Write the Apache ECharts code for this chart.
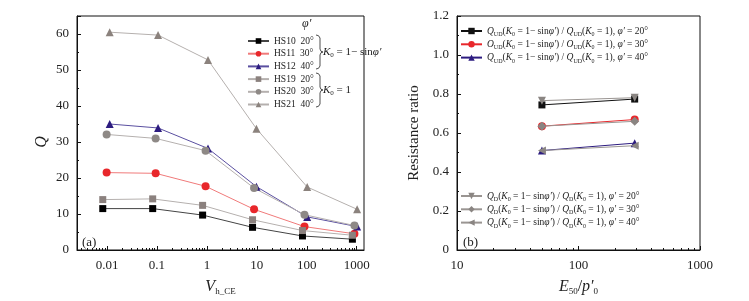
<!DOCTYPE html>
<html lang="en">

<head>
  <meta charset="UTF-8">
  <title>Resistance</title>
  <style>
    html, body { margin: 0; padding: 0; background: #fff; }
    #main { width: 749px; height: 301px; }
  </style>
</head>

<body>
  <div id="main"></div>
  <script src="https://cdn.jsdelivr.net/npm/echarts@6/dist/echarts.min.js"></script>
  <script>
    const myChart = echarts.init(document.getElementById('main'));
    const serif = 'Liberation Serif';

    // (a) Q vs V_h_CE, points are shifted a little along x per marker type
    const xSquare = [0.0082, 0.082, 0.82, 8.2, 82, 820];
    const xCircle = [0.0098, 0.094, 0.94, 8.8, 90, 900];
    const xTri = [0.0113, 0.105, 1.05, 9.8, 102, 1020];
    const hs10 = [11.5, 11.5, 9.7, 6.3, 3.9, 3.0];
    const hs11 = [21.5, 21.3, 17.7, 11.3, 6.5, 4.5];
    const hs12 = [35.0, 33.9, 28.2, 17.6, 9.2, 6.5];
    const hs19 = [14.0, 14.2, 12.4, 8.4, 5.4, 4.1];
    const hs20 = [32.1, 31.0, 27.6, 17.2, 9.8, 6.8];
    const hs21 = [60.5, 59.7, 52.8, 33.7, 17.5, 11.3];
    const phiA = { HS10: 20, HS11: 30, HS12: 40, HS19: 20, HS20: 30, HS21: 40 };
    const xTicksA = [0.01, 0.1, 1, 10, 100, 1000];

    // (b) resistance ratio vs E50/p'0
    const e50 = [50, 290];
    const ud20 = [0.744, 0.774];
    const ud30 = [0.635, 0.669];
    const ud40 = [0.510, 0.548];
    const d20 = [0.766, 0.781];
    const d30 = [0.635, 0.660];
    const d40 = [0.510, 0.535];
    const xTicksB = [10, 100, 1000];

    const zip = (xs, ys) => xs.map((x, i) => [x, ys[i]]);
    // log minor tick positions 2..9 x 10^k
    const minors = (lo, hi) => {
      const out = [];
      for (let k = lo; k < hi; k++) for (let m = 2; m <= 9; m++) out.push(+(m * Math.pow(10, k)).toPrecision(6));
      return out;
    };
    const fmt = v => String(+(+v).toPrecision(6));

    const rich = {
      i: { fontFamily: serif, fontStyle: 'italic', fontSize: 9.5, color: '#222', lineHeight: 13 },
      n: { fontFamily: serif, fontSize: 9.5, color: '#222', lineHeight: 13 },
      s: { fontFamily: serif, fontSize: 6, color: '#222', lineHeight: 13, verticalAlign: 'bottom' }
    };
    const ratioLabel = (q, sub, phi) =>
      `{i|${q}}{s|${sub}}{n|(}{i|K}{s|0}{n| = 1− sin}{i|φ′}{n|) / }{i|${q}}{s|${sub}}{n|(}{i|K}{s|0}{n| = 1), }{i|φ′}{n| = ${phi}°}`;
    const legendB = {
      UD20: ratioLabel('Q', 'UD', 20),
      UD30: ratioLabel('O', 'UD', 30),
      UD40: ratioLabel('Q', 'UD', 40),
      D20: ratioLabel('Q', 'D', 20),
      D30: ratioLabel('Q', 'D', 30),
      D40: ratioLabel('Q', 'D', 40)
    };

    const axisLbl = { fontFamily: serif, fontSize: 13, color: '#222' };
    const black = '#111';

    // curly brace as a polyline, x0 = left tip, y0 = top
    const brace = (x0, y0) => [[0, 0], [2.5, 0.7], [4, 3], [4, 14], [5, 16.3], [7, 17], [5, 17.7], [4, 20], [4, 31], [2.5, 33.3], [0, 34]]
      .map(p => [x0 + p[0], y0 + p[1]]);
    const kRich = {
      i: { fontFamily: serif, fontStyle: 'italic', fontSize: 11, fill: '#222', lineHeight: 14 },
      n: { fontFamily: serif, fontSize: 11, fill: '#222', lineHeight: 14 },
      s: { fontFamily: serif, fontSize: 7, fill: '#222', lineHeight: 14, verticalAlign: 'bottom' }
    };

    function line(name, data, color, lineColor, symbol, size, xi, yi, rot) {
      return {
        name, type: 'line', data, xAxisIndex: xi, yAxisIndex: yi,
        symbol, symbolSize: size, symbolRotate: rot || 0,
        itemStyle: { color },
        lineStyle: { color: lineColor, width: 1 },
        emphasis: { disabled: true }
      };
    }

    const option = {
      animation: false,
      grid: [
        { left: 77, top: 16, width: 287, height: 239, show: true, borderColor: black, borderWidth: 1 },
        { left: 457, top: 16, width: 243, height: 239, show: true, borderColor: black, borderWidth: 1 }
      ],
      xAxis: [
        {
          type: 'log', gridIndex: 0, min: 0.0025, max: 1400,
          name: '{i|V}{s|h_CE}', nameLocation: 'middle', nameGap: 28,
          nameTextStyle: {
            rich: {
              i: { fontFamily: serif, fontStyle: 'italic', fontSize: 16, color: '#222', lineHeight: 18 },
              s: { fontFamily: serif, fontSize: 9, color: '#222', lineHeight: 18, verticalAlign: 'bottom' }
            }
          },
          axisLine: { lineStyle: { color: black } },
          axisTick: { inside: true, length: 4, customValues: xTicksA, lineStyle: { color: black } },
          axisLabel: Object.assign({ customValues: xTicksA, formatter: fmt, margin: 9 }, axisLbl),
          splitLine: { show: false }
        },
        {
          type: 'log', gridIndex: 0, min: 0.0025, max: 1400, position: 'bottom',
          axisLine: { show: false },
          axisTick: { inside: true, length: 2, customValues: minors(-3, 4).filter(v => v > 0.0025 && v < 1400), lineStyle: { color: black } },
          axisLabel: { show: false }, splitLine: { show: false }
        },
        {
          type: 'log', gridIndex: 1, min: 10, max: 1000,
          name: '{i|E}{s|50}{n|/}{i|p′}{s|0}', nameLocation: 'middle', nameGap: 28,
          nameTextStyle: {
            rich: {
              i: { fontFamily: serif, fontStyle: 'italic', fontSize: 16, color: '#222', lineHeight: 18 },
              n: { fontFamily: serif, fontSize: 16, color: '#222', lineHeight: 18 },
              s: { fontFamily: serif, fontSize: 9, color: '#222', lineHeight: 18, verticalAlign: 'bottom' }
            }
          },
          axisLine: { lineStyle: { color: black } },
          axisTick: { inside: true, length: 4, customValues: xTicksB, lineStyle: { color: black } },
          axisLabel: Object.assign({ customValues: xTicksB, formatter: fmt, margin: 9 }, axisLbl),
          splitLine: { show: false }
        },
        {
          type: 'log', gridIndex: 1, min: 10, max: 1000, position: 'bottom',
          axisLine: { show: false },
          axisTick: { inside: true, length: 2, customValues: minors(1, 3), lineStyle: { color: black } },
          axisLabel: { show: false }, splitLine: { show: false }
        }
      ],
      yAxis: [
        {
          type: 'value', gridIndex: 0, min: 0, max: 65, interval: 10,
          name: 'Q', nameLocation: 'middle', nameGap: 27,
          nameTextStyle: { fontFamily: serif, fontStyle: 'italic', fontSize: 16, color: '#222', padding: [0, 0, 0, -18] },
          axisLine: { show: true, lineStyle: { color: black } },
          axisTick: { inside: true, length: 4, lineStyle: { color: black } },
          minorTick: { show: true, splitNumber: 2, length: 2, lineStyle: { color: black } },
          axisLabel: Object.assign({ showMaxLabel: false, margin: 8 }, axisLbl),
          splitLine: { show: false }
        },
        {
          type: 'value', gridIndex: 1, min: 0, max: 1.2, interval: 0.2,
          name: 'Resistance ratio', nameLocation: 'middle', nameGap: 35,
          nameTextStyle: { fontFamily: serif, fontSize: 15, color: '#222' },
          axisLine: { show: true, lineStyle: { color: black } },
          axisTick: { inside: true, length: 4, lineStyle: { color: black } },
          minorTick: { show: true, splitNumber: 2, length: 2, lineStyle: { color: black } },
          axisLabel: Object.assign({ margin: 8, formatter: v => v === 0 ? '0' : v.toFixed(1) }, axisLbl),
          splitLine: { show: false }
        }
      ],
      legend: [
        {
          data: ['HS10', 'HS11', 'HS12', 'HS19', 'HS20', 'HS21'],
          orient: 'vertical', left: 247, top: 35, padding: 0, itemWidth: 21, itemHeight: 7, itemGap: 0.7,
          formatter: name => `${name}  ${phiA[name]}°`,
          textStyle: { fontFamily: serif, fontSize: 9.5, color: '#222', lineHeight: 12 },
          selectedMode: false
        },
        {
          data: ['UD20', 'UD30', 'UD40'],
          orient: 'vertical', left: 460, top: 26, padding: 0, itemWidth: 21, itemHeight: 8, itemGap: 1.8,
          formatter: name => legendB[name],
          textStyle: { rich }, selectedMode: false
        },
        {
          data: ['D20', 'D30', 'D40'],
          orient: 'vertical', left: 460, top: 191, padding: 0, itemWidth: 21, itemHeight: 8, itemGap: 1.8,
          formatter: name => legendB[name],
          textStyle: { rich }, selectedMode: false
        }
      ],
      graphic: [
        { type: 'text', x: 302, y: 18, style: { text: 'φ′', fontFamily: serif, fontStyle: 'italic', fontSize: 12, fill: '#222' } },
        { type: 'polyline', shape: { points: brace(316, 35) }, style: { fill: null, stroke: '#222', lineWidth: 0.8 } },
        { type: 'polyline', shape: { points: brace(316, 73) }, style: { fill: null, stroke: '#222', lineWidth: 0.8 } },
        { type: 'text', x: 323, y: 45, style: { text: '{i|K}{s|0}{n| = 1− sin}{i|φ′}', rich: kRich } },
        { type: 'text', x: 323, y: 83, style: { text: '{i|K}{s|0}{n| = 1}', rich: kRich } },
        { type: 'text', x: 82, y: 236, style: { text: '(a)', fontFamily: serif, fontSize: 13, fill: '#222' } },
        { type: 'text', x: 463, y: 236, style: { text: '(b)', fontFamily: serif, fontSize: 13, fill: '#222' } }
      ],
      series: [
        line('HS10', zip(xSquare, hs10), '#000', '#444', 'rect', 7, 0, 0),
        line('HS11', zip(xCircle, hs11), '#e8272b', '#f07a7a', 'circle', 8, 0, 0),
        line('HS12', zip(xTri, hs12), '#2d1c80', '#5a4fa0', 'triangle', 8, 0, 0),
        line('HS19', zip(xSquare, hs19), '#8b817e', '#b5b0ae', 'rect', 7, 0, 0),
        line('HS20', zip(xCircle, hs20), '#8e8986', '#b5b0ae', 'circle', 8, 0, 0),
        line('HS21', zip(xTri, hs21), '#8b827d', '#b5b0ae', 'triangle', 8, 0, 0),
        line('UD20', zip(e50, ud20), '#111', '#111', 'rect', 7, 2, 1),
        line('UD30', zip(e50, ud30), '#e8272b', '#e8272b', 'circle', 8, 2, 1),
        line('UD40', zip(e50, ud40), '#2d1c80', '#2d1c80', 'triangle', 8, 2, 1),
        line('D20', zip(e50, d20), '#8a8582', '#9a9592', 'triangle', 8, 2, 1, 180),
        line('D30', zip(e50, d30), '#8a8582', '#9a9592', 'diamond', 9, 2, 1),
        line('D40', zip(e50, d40), '#8a8582', '#9a9592', 'triangle', 8, 2, 1, 90)
      ]
    };

    myChart.setOption(option);
  </script>
</body>

</html>
